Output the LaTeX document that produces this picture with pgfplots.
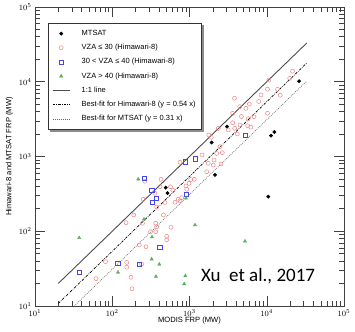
\documentclass[border=0pt]{standalone}
\usepackage{pgfplots}
\pgfplotsset{compat=1.18}
\usepackage{fontspec}
\setmainfont{Liberation Sans}
\newfontfamily\calibri{Carlito}
\usetikzlibrary{backgrounds}
\definecolor{cred}{RGB}{240,130,130}
\definecolor{cblue}{RGB}{70,70,235}
\definecolor{cgreen}{RGB}{90,175,90}
\begin{document}
\begin{tikzpicture}
\begin{axis}[
  scale only axis,
  width=309pt, height=299pt,
  xmode=log, ymode=log,
  xmin=10, xmax=1e5, ymin=10, ymax=1e5,
  xtick={10,100,1000,10000,100000},
  ytick={10,100,1000,10000,100000},
  axis line style={black!75, line width=0.5pt},
  every tick/.style={black!75, line width=0.5pt},
  major tick length=10pt, minor tick length=5pt,
  tick align=inside,
  tick label style={font=\fontsize{8}{9}\selectfont},
  /pgf/number format/assume math mode=true,
  xlabel={MODIS FRP (MW)},
  ylabel={Himawari-8 and MTSAT FRP (MW)},
  label style={font=\fontsize{7.6}{9}\selectfont},
  xlabel style={yshift=6pt},
  ylabel style={yshift=-1pt},
  clip=true,
  legend style={name=leg, at={(rel axis cs:0.042,0.9465)}, anchor=north west,
    draw=black!80, fill=white, line width=0.5pt,
    font=\fontsize{7.5}{8.5}\selectfont, row sep=3.3pt,
    inner xsep=4pt, inner ysep=5pt,
    legend cell align=left},
  legend image code/.code={\path[draw=none,fill=none] (0cm,-2pt) rectangle (0.95cm,2pt); \draw[#1] (0cm,0cm) -- (0.6cm,0cm);},
]
\pgfplotsset{mk/.style={legend image code/.code={\path[draw=none,fill=none] (0cm,-2pt) rectangle (0.95cm,2pt); \draw[mark repeat=2,mark phase=2] plot coordinates {(0cm,0cm) (0.3cm,0cm) (0.6cm,0cm)};}}}
% MTSAT
\addplot[only marks, mark=*, mark size=1.7pt, black, mk]
coordinates {(492,383) (519,323) (1936,1538) (2138,566) (3055,2506) (11350,1897) (12530,2128) (26180,10160) (10470,290)};
\addlegendentry{MTSAT}
% VZA <= 30
\addplot[only marks, mark=o, mark size=2pt, cred, line width=0.5pt, mk]
coordinates {(263,466) (428,495) (415,394) (567,394) (608,353) (252,267) (357,322) (376,211) (482,243) (649,244) (716,267) (754,254) (793,281) (190,165) (151,130) (246,128) (365,128) (460,165) (376,115) (313,98.6) (365,98.6) (576,113) (507,85.5) (507,77.1) (224,65.5) (274,62.1) (81.8,39.2) (154,38.2) (154,33.0) (240,36.5) (61.7,23.2) (175,24.2) (180,17.0) (1038,492) (1153,495) (1671,626) (901,403) (920,364) (1452,1047) (2249,1097) (2660,1124) (2075,897) (1750,811) (2032,769) (2557,795) (1778,1941) (1914,1807) (2361,2382) (2483,1352) (3177,2264) (3846,2382) (3622,2832) (4508,2637) (3622,3784) (4710,3428) (5944,5035) (5385,4415) (4467,4636) (3828,6012) (5768,3205) (6839,3404) (5640,2583) (6226,2466) (8432,6653) (7870,5447) (10230,3784) (10660,10540) (10230,7943) (13770,7943) (14960,6591) (21540,13840) (19820,11120) (4159,2000) (754,836) (986,438)};
\addlegendentry{VZA ≤ 30 (Himawari-8)}
% 30 < VZA <= 40
\addplot[only marks, mark=square, mark size=2.2pt, cblue, line width=0.5pt, mk]
coordinates {(257.5,510) (324,356) (368,276) (332,243) (413,60.7) (117.8,37.1) (224,36.1) (37.4,28.2) (875,849) (1197,927) (901,315) (5224,1941)};
\addlegendentry{30 < VZA ≤ 40 (Himawari-8)}
% VZA > 40
\addplot[only marks, mark=triangle*, mark size=1.9pt, cgreen, mk]
coordinates {(217,497) (257.5,144.6) (37.3,81.7) (327,83.8) (324,42.3) (407,36.1) (118.6,28.2) (368,24.8) (901,276) (1178,121) (5224,73.5) (883,25.2) (853,19.7)};
\addlegendentry{VZA > 40 (Himawari-8)}
% 1:1 line
\addplot[black!70, line width=0.9pt, no marks] coordinates {(20,20) (33000,33000)};
\addlegendentry{1:1 line}
% Himawari best fit
\addplot[black, line width=0.7pt, no marks, dash pattern=on 2.5pt off 1.2pt on 0.6pt off 1.2pt] coordinates {(20,10.8) (33000,17820)};
\addlegendentry{Best-fit for Himawari-8 (y = 0.54 x)}
% MTSAT best fit
\addplot[black!60, line width=0.7pt, no marks, dash pattern=on 0.8pt off 1.2pt] coordinates {(20,6.2) (33000,10230)};
\addlegendentry{Best-fit for MTSAT (y = 0.31 x)}
\node[font=\calibri\fontsize{19}{21}\selectfont, anchor=center] at (rel axis cs:0.722,0.10) {Xu\ \ et al., 2017};
\end{axis}
\begin{pgfonlayer}{background}
\fill[black!45] ([shift={(2.5pt,-2.5pt)}]leg.south west) rectangle ([shift={(2.5pt,-2.5pt)}]leg.north east);
\end{pgfonlayer}
\path ([shift={(-35pt,-26pt)}]current axis.south west) rectangle ([shift={(11pt,7pt)}]current axis.north east);
\end{tikzpicture}
\end{document}
